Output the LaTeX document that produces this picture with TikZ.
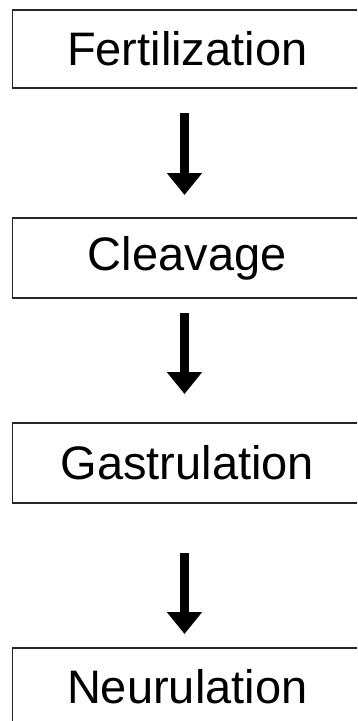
\documentclass[tikz,border=0pt]{standalone}
\usepackage{fontspec}
\setmainfont{Liberation Sans}
\usetikzlibrary{arrows.meta}
\begin{document}
\begin{tikzpicture}[x=1pt,y=1pt,
  stage/.style={draw=black!85, line width=1.5pt, minimum width=349.5pt, minimum height=78pt,
    inner sep=0pt, font=\fontsize{47}{56}\selectfont, text=black},
  fatarrow/.style={line width=9pt, draw=black, -{Triangle[width=34pt,length=22pt]}}]
\useasboundingbox (0,0) rectangle (357,-721);
\clip (0,0) rectangle (357,-721);
\node[stage] (fert) at (187.25,-49) {Fertilization};
\node[stage, minimum height=80pt] (clea) at (187.25,-258) {Cleavage};
\node[stage, minimum height=80pt] (gast) at (187.25,-463) {Gastrulation};
\node[stage] (neur) at (187.25,-687) {Neurulation};
\coordinate (a1s) at (184.5,-113);
\coordinate (a1e) at (184.5,-195);
\coordinate (a2s) at (184.5,-313);
\coordinate (a2e) at (184.5,-394);
\coordinate (a3s) at (184.5,-553);
\coordinate (a3e) at (184.5,-634);
\draw[fatarrow] (a1s) -- (a1e);
\draw[fatarrow] (a2s) -- (a2e);
\draw[fatarrow] (a3s) -- (a3e);
\end{tikzpicture}
\end{document}
